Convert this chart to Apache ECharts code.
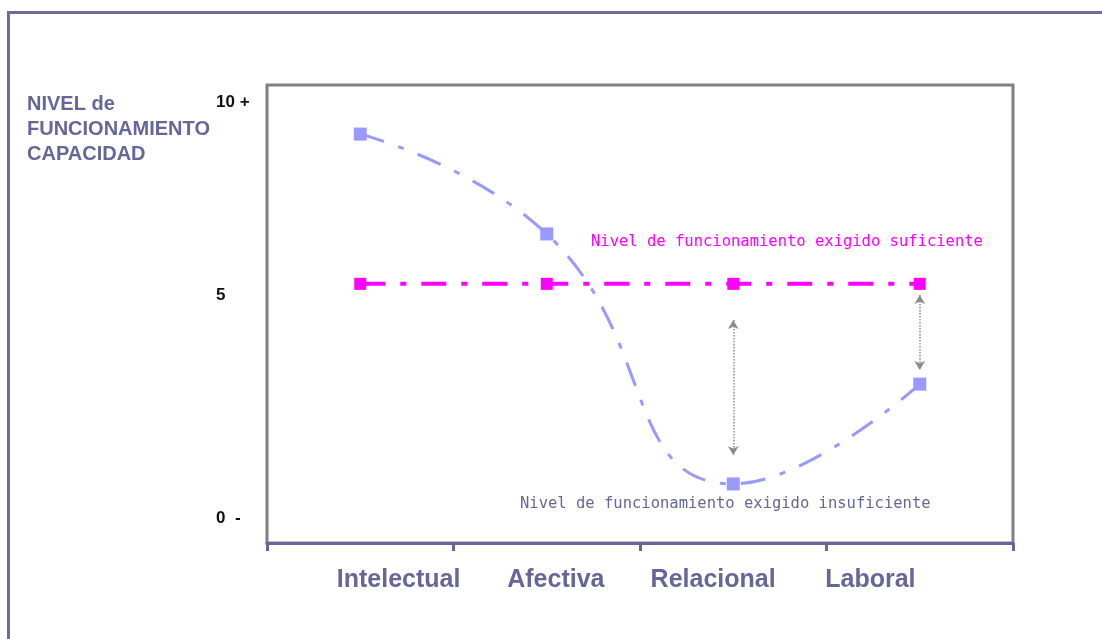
<!DOCTYPE html>
<html>
<head>
<meta charset="utf-8">
<script src="https://cdn.jsdelivr.net/npm/echarts@6/dist/echarts.min.js"></script>
<style>html,body{margin:0;padding:0;background:#fff}#c{width:1102px;height:639px}</style>
</head>
<body>
<div id="c"></div>
<script>
const categories = ['Intelectual', 'Afectiva', 'Relacional', 'Laboral'];
const capacidad = [9.23, 6.83, 0.82, 3.22];
const exigido = [5.63, 5.63, 5.63, 5.63];
const yLabelValues = [0, 5.35, 10];
const yLabelTexts = ['0  -', '5', '10 +'];
const gapArrows = [
  { cat: 'Relacional', from: 4.76, to: 1.51 },
  { cat: 'Laboral', from: 5.36, to: 3.56 }
];
const yTitle = 'NIVEL de\nFUNCIONAMIENTO\nCAPACIDAD';
const noteSuficiente = 'Nivel de funcionamiento exigido suficiente';
const noteInsuficiente = 'Nivel de funcionamiento exigido insuficiente';

const slate = '#666699';
const chart = echarts.init(document.getElementById('c'));
chart.setOption({
  animation: false,
  backgroundColor: '#fff',
  grid: [
    { left: 267, right: 89, top: 85, bottom: 96, show: true, borderColor: '#808080', borderWidth: 3, backgroundColor: 'transparent' },
    { left: 320, width: 629, top: 535, height: 25, show: false }
  ],
  xAxis: [
    {
      type: 'category', gridIndex: 0, data: categories, boundaryGap: true,
      axisLine: { show: true, onZero: false, lineStyle: { color: slate, width: 3 } },
      axisTick: { show: true, length: 8, lineStyle: { color: slate, width: 3 } },
      axisLabel: { show: false }, splitLine: { show: false }
    },
    {
      type: 'category', gridIndex: 1, data: categories, boundaryGap: true,
      axisLine: { show: false }, axisTick: { show: false }, splitLine: { show: false },
      axisLabel: { show: true, interval: 0, hideOverlap: false, margin: 8, color: slate, fontFamily: 'Liberation Sans, Arial, sans-serif', fontWeight: 'bold', fontSize: 25 }
    }
  ],
  yAxis: [
    {
      type: 'value', gridIndex: 0, min: -0.6, max: 10.41,
      axisLine: { show: false }, axisTick: { show: false }, splitLine: { show: false },
      axisLabel: {
        show: true, customValues: yLabelValues, align: 'left', margin: 51,
        color: '#111', fontFamily: 'Liberation Sans, Arial, sans-serif', fontWeight: 'bold', fontSize: 17,
        formatter: function (v) { const i = yLabelValues.indexOf(v); return i >= 0 ? yLabelTexts[i] : ''; }
      }
    },
    { type: 'value', gridIndex: 1, min: 0, max: 1, show: false }
  ],
  title: {
    text: yTitle, left: 27, top: 92, padding: 0,
    textStyle: { color: slate, fontFamily: 'Liberation Sans, Arial, sans-serif', fontWeight: 'bold', fontSize: 20, lineHeight: 25 }
  },
  graphic: [
    { type: 'rect', silent: true, shape: { x: 8.5, y: 12.5, width: 1200, height: 800 }, style: { fill: 'none', stroke: '#6e6e9e', lineWidth: 3 } },
    { type: 'text', left: 591, top: 234, style: { text: noteSuficiente, fill: '#ff00ff', font: '15.5px "DejaVu Sans Mono", monospace' } },
    { type: 'text', left: 520, top: 496, style: { text: noteInsuficiente, fill: slate, font: '15.5px "DejaVu Sans Mono", monospace' } }
  ],
  series: [
    {
      name: 'exigido', type: 'line', data: exigido, xAxisIndex: 0, yAxisIndex: 0,
      symbol: 'rect', symbolSize: 12, itemStyle: { color: '#ff00ff' },
      lineStyle: { color: '#ff00ff', width: 4, type: [25, 15, 6, 15] }, z: 3
    },
    {
      name: 'capacidad', type: 'line', data: capacidad, xAxisIndex: 0, yAxisIndex: 0,
      smooth: 0.5, symbol: 'rect', symbolSize: 13, itemStyle: { color: '#9999ff' },
      lineStyle: { color: '#9999ff', width: 3, type: [25, 15, 6, 15] }, z: 2,
      markLine: {
        silent: true, symbol: ['arrow', 'arrow'], symbolSize: [8, 9],
        label: { show: false },
        lineStyle: { color: '#8c8c8c', width: 1.5, type: 'dotted' },
        data: gapArrows.map(a => [{ coord: [a.cat, a.from] }, { coord: [a.cat, a.to] }])
      }
    }
  ]
});
</script>
</body>
</html>
